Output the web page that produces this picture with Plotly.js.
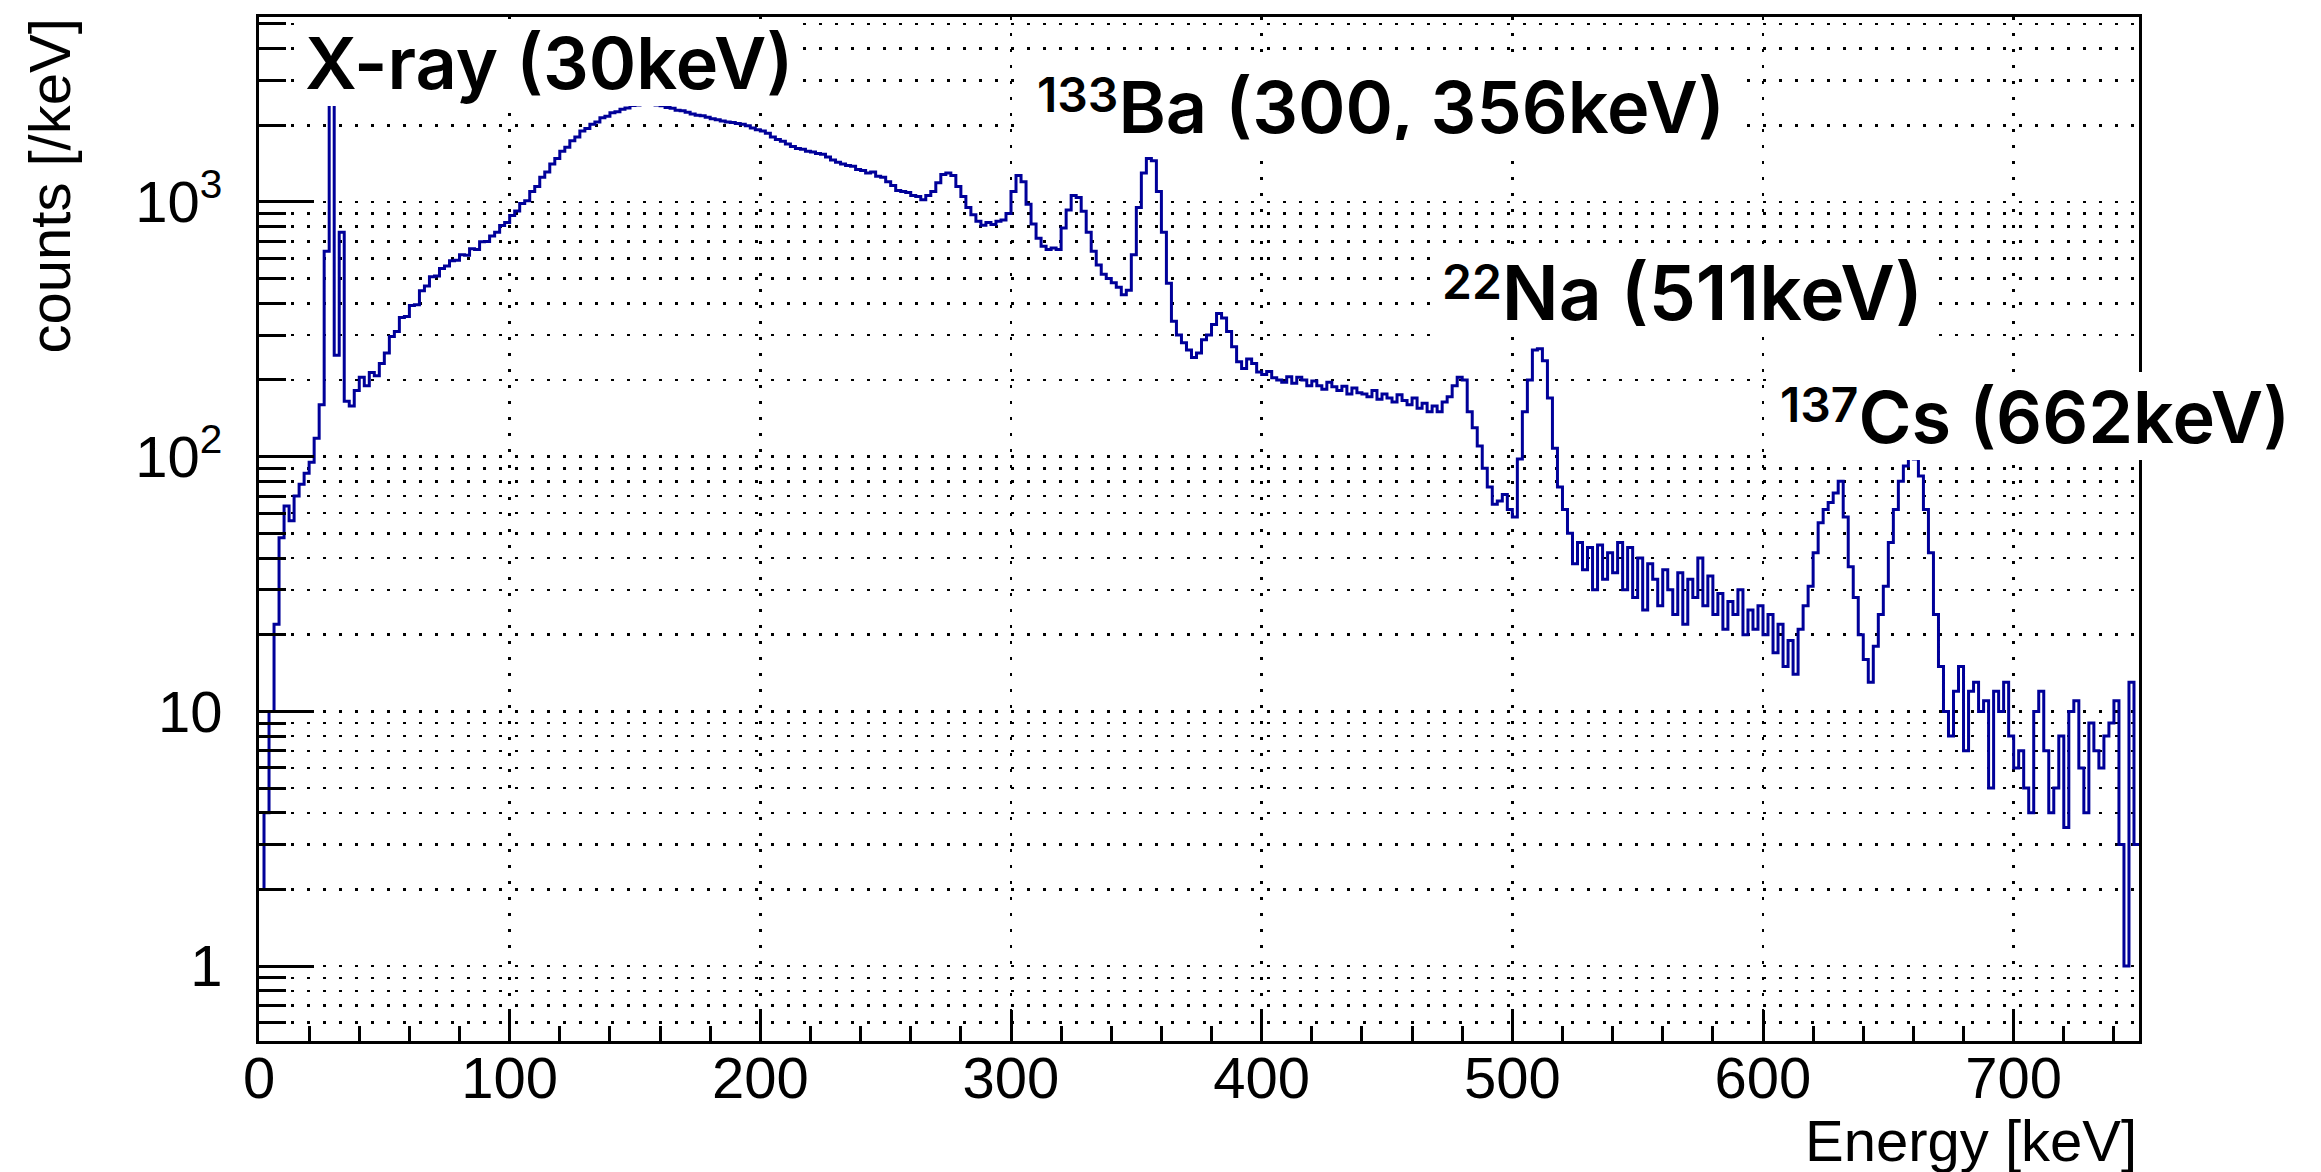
<!DOCTYPE html>
<html>
<head>
<meta charset="utf-8">
<script src="https://cdn.plot.ly/plotly-3.0.1.min.js"></script>
<style>
  html, body { margin: 0; padding: 0; background: #ffffff; }
  #chart { width: 2321px; height: 1172px; }
</style>
</head>
<body>
<div id="chart"></div>
<script>
// Energy spectrum, 2 keV bins, counts per keV
const BIN_WIDTH = 2;   // keV
const E_MAX = 750;     // keV

// 0 - 148 keV
const counts000 = [
  2, 4, 10, 22, 48, 64, 56, 70, 78, 86,
  95, 118, 160, 640, 2600, 250, 760, 165, 158, 182,
  205, 190, 214, 208, 232, 255, 296, 310, 352, 355,
  392, 395, 448, 468, 508, 512, 548, 560, 588, 590,
  620, 618, 655, 650, 698, 700, 735, 760, 808, 830,
  885, 922, 985, 1010, 1100, 1150, 1250, 1310, 1410, 1480,
  1580, 1640, 1740, 1800, 1900, 1940, 2020, 2060, 2140, 2170,
  2240, 2260, 2310, 2335, 2390
];
// 150 - 298 keV
const counts150 = [
  2400, 2420, 2435, 2410, 2400, 2385, 2350, 2330, 2290, 2280,
  2250, 2215, 2190, 2180, 2150, 2120, 2100, 2080, 2060, 2050,
  2030, 2020, 1990, 1950, 1920, 1900, 1860, 1800, 1760, 1730,
  1690, 1650, 1620, 1610, 1580, 1570, 1550, 1540, 1500, 1460,
  1430, 1410, 1390, 1380, 1340, 1330, 1300, 1310, 1260, 1250,
  1200, 1160, 1110, 1100, 1090, 1060, 1050, 1020, 1060, 1100,
  1190, 1280, 1300, 1270, 1150, 1050, 950, 890, 840, 810,
  830, 815, 840, 850, 900
];
// 300 - 448 keV
const counts300 = [
  1100, 1270, 1200, 980, 820, 720, 670, 650, 660, 650,
  790, 930, 1060, 1040, 920, 760, 640, 565, 520, 500,
  482, 462, 432, 450, 620, 950, 1300, 1480, 1450, 1100,
  760, 480, 340, 300, 280, 262, 245, 255, 288, 300,
  330, 365, 350, 310, 270, 236, 222, 242, 232, 215,
  210, 216, 204, 200, 196, 206, 194, 205, 200, 190,
  198, 190, 184, 196, 188, 182, 189, 176, 186, 178,
  176, 172, 182, 168, 176
];
// 450 - 598 keV
const counts450 = [
  170, 164, 175, 166, 160, 170, 155, 162, 150, 158,
  150, 164, 172, 190, 205, 200, 150, 130, 110, 90,
  76, 65, 67, 71, 62, 58, 98, 150, 200, 262,
  265, 238, 170, 108, 76, 62, 50, 38, 46, 36,
  44, 30, 45, 33, 42, 35, 46, 30, 44, 28,
  40, 25, 38, 33, 26, 36, 30, 24, 35, 22,
  33, 28, 40, 26, 34, 24, 29, 21, 27, 24,
  30, 20, 25, 21, 26
];
// 600 - 748 keV
const counts600 = [
  20, 24, 17, 22, 15, 19, 14, 21, 26, 31,
  42, 55, 62, 66, 72, 80, 58, 37, 28, 20,
  16, 13, 18, 24, 31, 46, 62, 80, 92, 103,
  98, 84, 62, 42, 24, 15, 10, 8, 12, 15,
  7, 12, 13, 10, 11, 5, 12, 10, 13, 8,
  6, 7, 5, 4, 10, 12, 7, 4, 5, 8,
  3.5, 10, 11, 6, 4, 9, 7, 6, 8, 9,
  11, 3, 1, 13, 3
];

// Axis ticks
const xTickVals = [0, 100, 200, 300, 400, 500, 600, 700];
const yTickVals = [1, 10, 100, 1000];
const yTickText = ['1', '10', '10<sup>2</sup>', '10<sup>3</sup>'];

// Peak labels (isotope mass number as a raised prefix)
function isotope(mass, rest) {
  return '<span style="font-size:50px"><sup><span style="font-size:48px">' + mass +
         '</span></sup></span>' + rest;
}
const peakLabels = [
  'X-ray (30keV)',
  isotope('133', 'Ba (300, 356keV)'),
  isotope('22', 'Na (511keV)'),
  isotope('137', 'Cs (662keV)')
];

// ---- build the step histogram ----
const counts = [].concat(counts000, counts150, counts300, counts450, counts600);
const binLow = counts.map((_, i) => i * BIN_WIDTH);
const stepX = binLow.concat([E_MAX]);
const stepY = counts.concat([counts[counts.length - 1]]);

// minor ticks on the log axis: 2..9 of every decade, plus 0.6..0.9 below 1
const yMinor = [0.6, 0.7, 0.8, 0.9];
[1, 10, 100, 1000].forEach(d => {
  for (let k = 2; k <= 9; k++) {
    if (k * d <= 5000) yMinor.push(k * d);
  }
});

const AXIS_FONT = { family: 'Liberation Sans, Arial, sans-serif', size: 58, color: '#000000' };
const LABEL_FONT = { family: 'Inter, Open Sans, sans-serif', size: 72, color: '#000000', weight: 600 };
const GRID_DASH = '3px,13px';

const trace = {
  type: 'scatter',
  mode: 'lines',
  x: stepX,
  y: stepY,
  line: { shape: 'hv', color: '#000099', width: 3 },
  hoverinfo: 'x+y',
  showlegend: false
};

function label(text, xPaper, yPaper, opts) {
  return Object.assign({
    text: text,
    xref: 'paper', yref: 'paper',
    x: xPaper, y: yPaper,
    xanchor: 'left', yanchor: 'middle',
    showarrow: false,
    font: LABEL_FONT,
    bgcolor: '#ffffff',
    borderpad: 10,
    borderwidth: 0,
    valign: 'middle'
  }, opts || {});
}

const layout = {
  width: 2321,
  height: 1172,
  margin: { l: 259, r: 182, t: 17, b: 131 },
  paper_bgcolor: '#ffffff',
  plot_bgcolor: '#ffffff',
  showlegend: false,
  xaxis: {
    range: [0, E_MAX],
    tickmode: 'array',
    tickvals: xTickVals,
    ticks: 'inside',
    ticklen: 31,
    tickwidth: 3,
    tickcolor: '#000000',
    tickfont: AXIS_FONT,
    ticklabelstandoff: -16,
    showline: true,
    linecolor: '#000000',
    linewidth: 3,
    mirror: true,
    showgrid: true,
    gridcolor: '#000000',
    gridwidth: 2.5,
    griddash: GRID_DASH,
    zeroline: false,
    minor: {
      dtick: 20,
      ticks: 'inside',
      ticklen: 15,
      tickwidth: 3,
      tickcolor: '#000000',
      showgrid: false
    }
  },
  yaxis: {
    type: 'log',
    range: [-0.294, 3.726],
    tickmode: 'array',
    tickvals: yTickVals,
    ticktext: yTickText,
    ticks: 'inside',
    ticklen: 55,
    tickwidth: 3,
    tickcolor: '#000000',
    tickfont: AXIS_FONT,
    ticklabelstandoff: 22,
    showline: true,
    linecolor: '#000000',
    linewidth: 3,
    mirror: true,
    showgrid: true,
    gridcolor: '#000000',
    gridwidth: 2.5,
    griddash: GRID_DASH,
    zeroline: false,
    minor: {
      tickmode: 'array',
      tickvals: yMinor,
      ticks: 'inside',
      ticklen: 27,
      tickwidth: 3,
      tickcolor: '#000000',
      showgrid: true,
      gridcolor: '#000000',
      gridwidth: 2.5,
      griddash: GRID_DASH
    }
  },
  annotations: [
    label(peakLabels[0], 0.0245, 0.998, { yanchor: 'top', borderpad: 0 }),
    label(peakLabels[1], 0.4085, 0.9131, { height: 68 }),
    label(peakLabels[2], 0.6239, 0.7314, { height: 68, font: Object.assign({}, LABEL_FONT, { size: 75 }) }),
    label(peakLabels[3], 0.8037, 0.6104, { height: 68 }),
    {
      text: 'counts [/keV]',
      xref: 'paper', yref: 'paper',
      x: -0.1117, y: 1,
      xanchor: 'center', yanchor: 'top',
      textangle: -90,
      showarrow: false,
      font: AXIS_FONT
    },
    {
      text: 'Energy [keV]',
      xref: 'paper', yref: 'paper',
      x: 1, y: -0.0967,
      xanchor: 'right', yanchor: 'middle',
      showarrow: false,
      font: AXIS_FONT
    }
  ]
};

Plotly.newPlot('chart', [trace], layout, { staticPlot: true, displayModeBar: false });
</script>
</body>
</html>
